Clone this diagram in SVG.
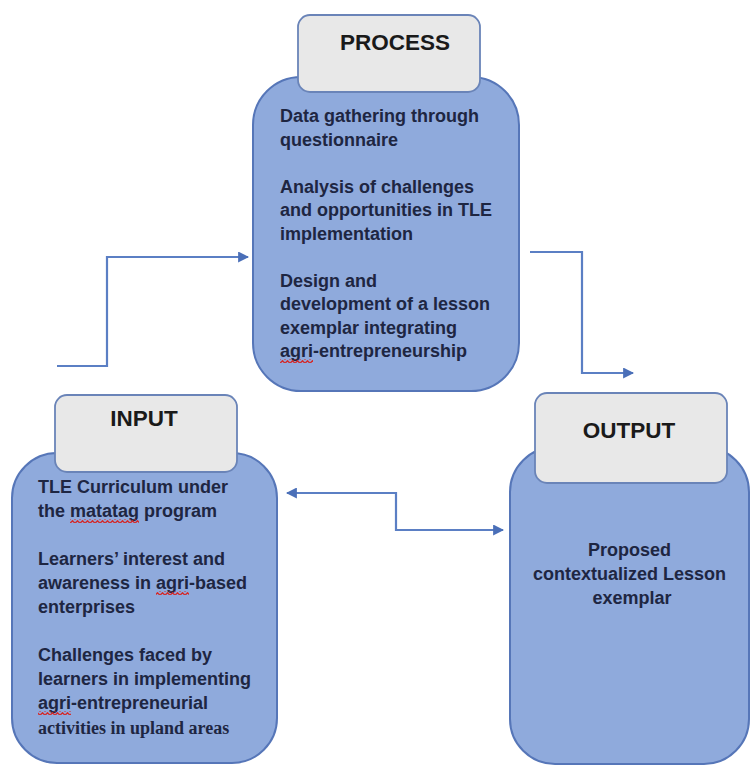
<svg xmlns="http://www.w3.org/2000/svg" width="750" height="765" viewBox="0 0 750 765">
<defs>
<style>
.body{fill:#8faadc;stroke:#5676b8;stroke-width:2}
.head{fill:#e8e8e8;stroke:#6a84b8;stroke-width:1.8}
.title{font-family:"Liberation Sans",Arial,sans-serif;font-weight:bold;font-size:22.5px;fill:#1a1a1a;text-anchor:middle}
.txt{font-family:"Liberation Sans",Arial,sans-serif;font-weight:bold;font-size:18px;fill:#1e2642}
.ser{font-family:"Liberation Serif","Times New Roman",serif;font-weight:bold;font-size:18px;fill:#1e2642}
.conn{fill:none;stroke:#5b7fc4;stroke-width:2.2}
</style>
<marker id="ah" viewBox="0 0 10 10" refX="9" refY="5" markerWidth="5" markerHeight="5" orient="auto-start-reverse" markerUnits="strokeWidth">
<path d="M0,0 L10,5 L0,10 z" fill="#4a6fb8"/>
</marker>
<pattern id="sq" width="5" height="4" patternUnits="userSpaceOnUse">
<path d="M0,3.2 L2.5,0.8 L5,3.2" fill="none" stroke="#d42a2a" stroke-width="1.4"/>
</pattern>
</defs>
<g id="connectors">
<path class="conn" d="M57,366 H107 V257 H248" marker-end="url(#ah)"/>
<path class="conn" d="M530,252 H582 V373 H633" marker-end="url(#ah)"/>
<path class="conn" d="M287,493 H396 V530 H503" marker-start="url(#ah)" marker-end="url(#ah)"/>
</g>
<g id="process">
<rect class="body" x="253" y="77" width="266" height="314" rx="48"/>
<rect class="head" x="298" y="15" width="182" height="77" rx="12"/>
<text class="title" x="395" y="50">PROCESS</text>
<text class="txt">
<tspan x="280" y="122">Data gathering through</tspan>
<tspan x="280" y="145.5">questionnaire</tspan>
<tspan x="280" y="192.5">Analysis of challenges</tspan>
<tspan x="280" y="216">and opportunities in TLE</tspan>
<tspan x="280" y="239.5">implementation</tspan>
<tspan x="280" y="286.5">Design and</tspan>
<tspan x="280" y="310">development of a lesson</tspan>
<tspan x="280" y="333.5">exemplar integrating</tspan>
<tspan x="280" y="357">agri-entrepreneurship</tspan>
</text>
<rect x="280" y="359" width="33" height="4" fill="url(#sq)"/>
</g>
<g id="input">
<rect class="body" x="12" y="453" width="265" height="310" rx="45"/>
<rect class="head" x="55" y="395" width="182" height="77" rx="12"/>
<text class="title" x="144" y="426">INPUT</text>
<text class="txt">
<tspan x="38" y="493">TLE Curriculum under</tspan>
<tspan x="38" y="517">the matatag program</tspan>
<tspan x="38" y="565">Learners’ interest and</tspan>
<tspan x="38" y="589">awareness in agri-based</tspan>
<tspan x="38" y="613">enterprises</tspan>
<tspan x="38" y="661">Challenges faced by</tspan>
<tspan x="38" y="685">learners in implementing</tspan>
<tspan x="38" y="709">agri-entrepreneurial</tspan>
</text>
<text class="ser" x="38" y="734">activities in upland areas</text>
<rect x="70" y="519" width="69" height="4" fill="url(#sq)"/>
<rect x="156" y="591" width="33" height="4" fill="url(#sq)"/>
<rect x="38" y="711" width="33" height="4" fill="url(#sq)"/>
</g>
<g id="output">
<rect class="body" x="510" y="447" width="239" height="317" rx="45"/>
<rect class="head" x="535" y="393" width="192" height="90" rx="12"/>
<text class="title" x="629" y="438">OUTPUT</text>
<text class="txt" text-anchor="middle">
<tspan x="632" y="556">Proposed</tspan>
<tspan x="632" y="580">contextualized Lesson</tspan>
<tspan x="632" y="604">exemplar</tspan>
</text>
</g>
</svg>
